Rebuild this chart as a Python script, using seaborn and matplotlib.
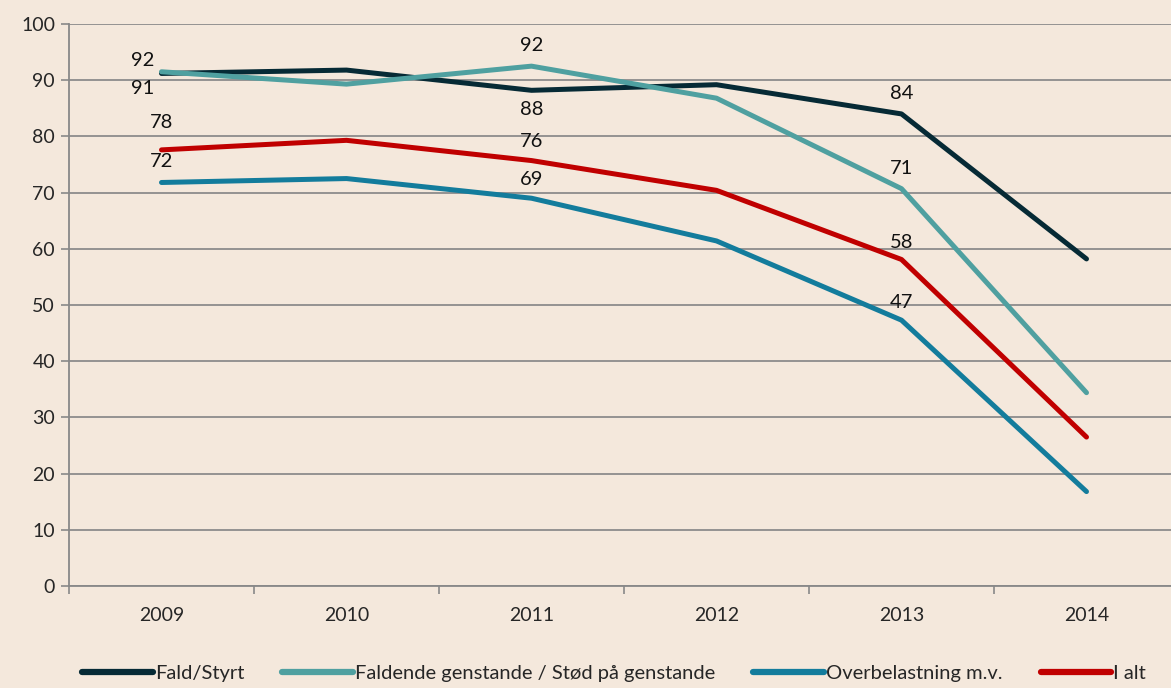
import pandas as pd
import seaborn as sns
import matplotlib.pyplot as plt

years = ["2009", "2010", "2011", "2012", "2013", "2014"]
series_names = ["Fald/Styrt", "Faldende genstande / Stød på genstande",
                "Overbelastning m.v.", "I alt"]
fald = [91.2, 91.8, 88.2, 89.2, 84.0, 58.2]
faldende = [91.5, 89.3, 92.5, 86.8, 70.7, 34.4]
overbelastning = [71.8, 72.5, 69.0, 61.4, 47.3, 16.8]
i_alt = [77.6, 79.3, 75.7, 70.4, 58.1, 26.5]
colors = ["#062A35", "#4FA0A0", "#137C9C", "#C00000"]

# data labels: (series index, year index, text, dx px, dy px)
labels = [
    (1, 0, "92", -19, 11), (0, 0, "91", -19, -15),
    (3, 0, "78", 0, 27), (2, 0, "72", 0, 21),
    (1, 2, "92", 0, 21), (0, 2, "88", 0, -19),
    (3, 2, "76", 0, 19), (2, 2, "69", 0, 19),
    (0, 4, "84", 0, 20), (1, 4, "71", 0, 20),
    (3, 4, "58", 0, 17), (2, 4, "47", 0, 18),
]

values = [fald, faldende, overbelastning, i_alt]
df = pd.DataFrame({
    "year": years * 4,
    "x": list(range(len(years))) * 4,
    "value": sum(values, []),
    "serie": [s for s in series_names for _ in years],
})

bg = "#F4E8DC"
sns.set_theme(style="white")
plt.rcParams["font.family"] = ["Lato", "DejaVu Sans"]

fig = plt.figure(figsize=(11.71, 6.88), dpi=100)
fig.patch.set_facecolor(bg)
ax = fig.add_axes([69 / 1171, 1 - 586 / 688, 1110 / 1171, 562 / 688])
ax.set_facecolor(bg)

sns.lineplot(data=df, x="x", y="value", hue="serie", hue_order=series_names,
             palette=colors, linewidth=3.6, ax=ax, solid_capstyle="round",
             legend=True)

ax.set_xlim(-0.5, 5.5)
ax.set_ylim(0, 100)
ax.set_yticks(range(0, 101, 10))
ax.set_xticks([i + 0.5 for i in range(-1, 6)], minor=False)
ax.set_xticklabels([])
ax.set_xticks(range(6), minor=True)
ax.set_xticklabels(years, minor=True, fontsize=14)
ax.tick_params(axis="x", which="major", length=6, width=1.2, color="#888888",
               direction="out", bottom=True)
ax.tick_params(axis="x", which="minor", length=0, pad=15)
ax.tick_params(axis="y", length=6, width=1.2, color="#888888", direction="out",
               left=True, labelsize=14, pad=4)
ax.grid(axis="y", color="#8C8C8C", linewidth=1.3)
ax.set_axisbelow(True)
for side in ["top", "right"]:
    ax.spines[side].set_visible(False)
for side in ["left", "bottom"]:
    ax.spines[side].set_color("#888888")
    ax.spines[side].set_linewidth(1.3)
ax.set_xlabel("")
ax.set_ylabel("")

for si, yi, txt, dx, dy in labels:
    ax.annotate(txt, (yi, values[si][yi]), xytext=(dx * 0.72, dy * 0.72),
                textcoords="offset points", ha="center", va="center",
                fontsize=14.5, color="#111111")

handles, lbls = ax.get_legend_handles_labels()
for h in handles:
    h.set_linewidth(4.5)
ax.legend(handles, lbls, loc="center", bbox_to_anchor=(545 / 1110, -0.155),
          ncol=4, frameon=False, fontsize=14.5, handlelength=3.5,
          handletextpad=0.1, columnspacing=1.9)

fig.savefig("out.png", dpi=100, facecolor=bg)
